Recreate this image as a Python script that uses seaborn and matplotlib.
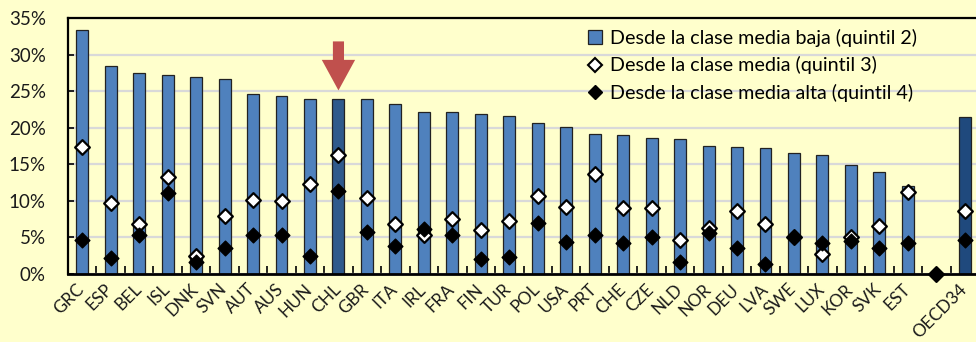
import matplotlib
matplotlib.use("Agg")
import matplotlib.pyplot as plt
import matplotlib.transforms as mtransforms
import seaborn as sns
import pandas as pd
import numpy as np
from matplotlib.patches import Patch
from matplotlib.lines import Line2D

countries = ["GRC", "ESP", "BEL", "ISL", "DNK", "SVN", "AUT", "AUS", "HUN", "CHL",
             "GBR", "ITA", "IRL", "FRA", "FIN", "TUR", "POL", "USA", "PRT", "CHE",
             "CZE", "NLD", "NOR", "DEU", "LVA", "SWE", "LUX", "KOR", "SVK", "EST",
             " ", "OECD34"]

quintil2 = [33.3, 28.4, 27.5, 27.2, 27.0, 26.6, 24.6, 24.4, 23.9, 23.9,
            23.9, 23.3, 22.2, 22.1, 21.9, 21.6, 20.6, 20.1, 19.2, 19.0,
            18.6, 18.5, 17.5, 17.4, 17.2, 16.5, 16.3, 14.9, 14.0, 12.0,
            np.nan, 21.5]

quintil3 = [17.4, 9.7, 6.8, 13.2, 2.4, 7.9, 10.1, 10.0, 12.3, 16.3,
            10.4, 6.8, 5.3, 7.5, 6.0, 7.3, 10.6, 9.1, 13.7, 9.0,
            9.0, 4.7, 6.3, 8.6, 6.9, 5.0, 2.8, 5.1, 6.5, 11.2,
            0.0, 8.6]

quintil4 = [4.6, 2.2, 5.3, 11.1, 1.6, 3.5, 5.4, 5.3, 2.4, 11.3,
            5.7, 3.8, 6.1, 5.4, 2.0, 2.3, 7.0, 4.4, 5.3, 4.2,
            5.0, 1.6, 5.6, 3.5, 1.3, 5.0, 4.2, 4.5, 3.5, 4.3,
            0.0, 4.6]

labels = ["Desde la clase media baja (quintil 2)",
          "Desde la clase media (quintil 3)",
          "Desde la clase media alta (quintil 4)"]

df = pd.DataFrame({"pais": countries, "q2": quintil2, "q3": quintil3, "q4": quintil4})

bg = "#FFFFCC"
bar_blue = "#4F81BD"
palette = {c: bar_blue for c in countries}
palette["CHL"] = "#2F5A8C"
palette["OECD34"] = "#1F497D"

plt.rcParams["font.family"] = ["Lato", "DejaVu Sans"]

fig = plt.figure(figsize=(9.76, 3.42), dpi=100, facecolor=bg)
ax = fig.add_axes([68 / 976, 1 - 274 / 342, (979 - 68) / 976, (274 - 18) / 342])
ax.set_facecolor(bg)

sns.barplot(data=df, x="pais", y="q2", hue="pais", palette=palette, order=countries,
            legend=False, width=0.42, saturation=1, edgecolor="#222222", linewidth=0.9,
            ax=ax, zorder=2)

sns.stripplot(data=df, x="pais", y="q3", order=countries, jitter=False, marker="D",
              size=7.5, color="white", edgecolor="black", linewidth=1.6, ax=ax,
              zorder=3, clip_on=False)
sns.stripplot(data=df, x="pais", y="q4", order=countries, jitter=False, marker="D",
              size=7.5, color="black", edgecolor="black", linewidth=1.0, ax=ax,
              zorder=4, clip_on=False)

n = len(countries)
ax.set_xlim(-0.5, n - 0.5)
ax.set_ylim(0, 35)
ax.set_yticks(np.arange(0, 36, 5))
ax.set_yticklabels([f"{v}%" for v in range(0, 36, 5)], fontsize=13.5, color="#1a1a1a")
ax.yaxis.grid(True, color="#D9D9D9", linewidth=1.6, zorder=0)
ax.set_axisbelow(True)
ax.set_xlabel("")
ax.set_ylabel("")

# category labels, tick marks between categories
ax.set_xticks(np.arange(n))
ax.set_xticklabels(countries, rotation=45, ha="right", rotation_mode="anchor",
                   fontsize=12.4, color="#1a1a1a")
ax.tick_params(axis="x", length=0, pad=5)
shift = mtransforms.ScaledTranslation(-6 / 100, 0, fig.dpi_scale_trans)
for lbl in ax.get_xticklabels():
    lbl.set_transform(lbl.get_transform() + shift)
ax.set_xticks(np.arange(n) + 0.5, minor=True)
ax.tick_params(axis="x", which="minor", direction="in", length=6, width=1.2, color="black")
ax.tick_params(axis="y", direction="in", length=4, width=1.2, pad=16)

for side in ["left", "top", "bottom", "right"]:
    ax.spines[side].set_color("black")
    ax.spines[side].set_linewidth(1.6)
ax.spines["bottom"].set_linewidth(2.0)

# arrow pointing at Chile
chl = countries.index("CHL")
ax.annotate("", xy=(chl, 25.1), xytext=(chl, 31.8),
            arrowprops=dict(arrowstyle="simple,head_width=2.4,head_length=2.2,tail_width=0.8",
                            color="#C0504D", lw=0, shrinkA=0, shrinkB=0),
            zorder=5)

handles = [Patch(facecolor=bar_blue, edgecolor="#222222", linewidth=0.9),
           Line2D([], [], marker="D", linestyle="none", markersize=7, markerfacecolor="white",
                  markeredgecolor="black", markeredgewidth=1.5),
           Line2D([], [], marker="D", linestyle="none", markersize=7, markerfacecolor="black",
                  markeredgecolor="black")]
leg = ax.legend(handles, labels, loc="upper left", bbox_to_anchor=((580 - 68) / 911, 0.99),
                frameon=False, fontsize=14.2, handlelength=0.7, handleheight=0.7,
                handletextpad=0.4, labelspacing=0.5, borderaxespad=0)

fig.savefig("out.png", dpi=100, facecolor=bg)
